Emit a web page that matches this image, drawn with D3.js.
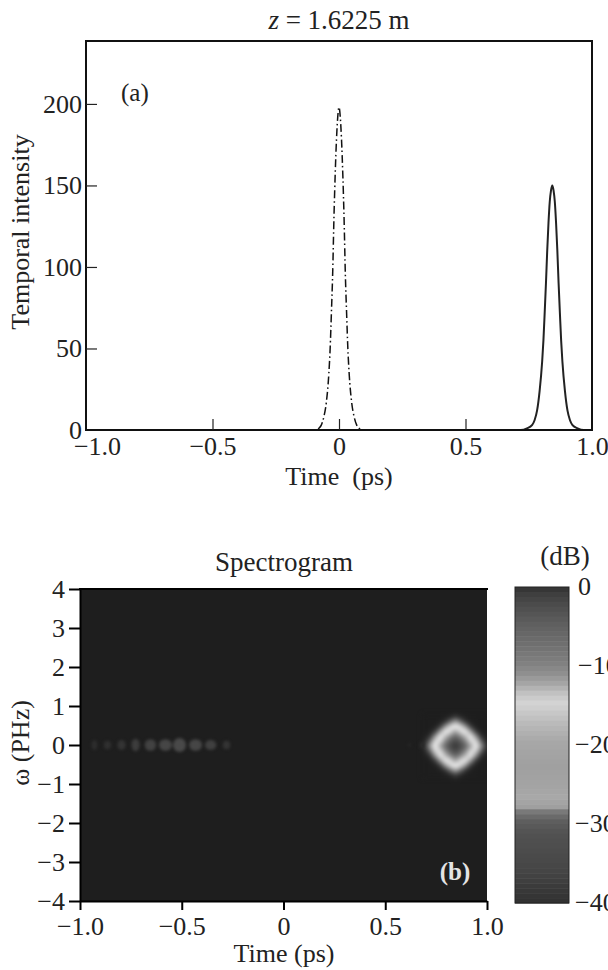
<!DOCTYPE html>
<html><head><meta charset="utf-8">
<script src="https://cdn.jsdelivr.net/npm/d3@7/dist/d3.min.js"></script>
<style>
html,body{margin:0;padding:0;background:#fff;overflow:hidden}
svg{display:block}
text{font-family:"Liberation Serif",serif;fill:#222}
</style></head><body><div id="c"></div>
<script>
// Panel (a): reference pulse (dash-dot) and shifted pulse (solid)
const refTime = [-1,-0.09,-0.08,-0.07,-0.06,-0.05,-0.04,-0.035,-0.03,-0.025,-0.02,-0.015,-0.01,-0.005,0,0.005,0.01,0.015,0.02,0.025,0.03,0.035,0.04,0.05,0.06,0.07,0.08,0.09,1];
const refIntensity = [0,0,1,3,8,17,35,50,72,96,130,157,178,192,198,192,178,157,130,96,72,50,35,17,8,3,1,0,0];
const pulseTime = [-1,0.718,0.743,0.763,0.773,0.783,0.793,0.803,0.808,0.813,0.818,0.823,0.828,0.833,0.838,0.843,0.848,0.853,0.858,0.863,0.868,0.873,0.878,0.883,0.893,0.903,0.913,0.923,0.943,0.968,1];
const pulseIntensity = [0,0,1,3,6,12,24,42,55,72,90,110,127,140,147,150,147,140,127,110,90,72,55,42,24,12,6,3,1,0,0];
const xTicksA = [-1,-0.5,0,0.5,1];
const yTicksA = [0,50,100,150,200];

// Panel (b): spectrogram, sampled level (0 = background, 100 = brightest)
const cellTimes = [0.695,0.72,0.745,0.77,0.795,0.82,0.845,0.87,0.895,0.92,0.945,0.97,0.995];
const cellFreqs = [0.725,0.6,0.475,0.35,0.225,0.1,-0.025,-0.15,-0.275,-0.4,-0.525,-0.65,-0.775];
const cellLevels = [
 [0,0,0,0,1,4,14,4,1,0,0,0,0],
 [0,0,0,1,10,42,74,42,10,1,0,0,0],
 [0,0,1,14,66,108,122,108,66,14,1,0,0],
 [0,1,14,70,120,108,72,108,120,70,14,1,0],
 [1,10,66,120,92,58,40,58,92,120,66,10,1],
 [4,42,108,108,58,34,24,34,58,108,108,42,4],
 [14,74,122,72,40,24,12,24,40,72,122,74,14],
 [4,42,108,108,58,34,24,34,58,108,108,42,4],
 [1,10,66,120,92,58,40,58,92,120,66,10,1],
 [0,1,14,70,120,108,72,108,120,70,14,1,0],
 [0,0,1,14,66,108,122,108,66,14,1,0,0],
 [0,0,0,1,10,42,74,42,10,1,0,0,0],
 [0,0,0,0,1,4,14,4,1,0,0,0,0]];
const spotTimes = [-0.929,-0.865,-0.796,-0.727,-0.654,-0.58,-0.511,-0.432,-0.358,-0.28,0.62,0.68];
const spotHalfT = [0.014,0.018,0.02,0.02,0.028,0.032,0.032,0.032,0.028,0.018,0.008,0.012];
const spotHalfF = [0.12,0.11,0.13,0.16,0.15,0.15,0.18,0.15,0.13,0.11,0.06,0.08];
const spotLevels = [9,10,12,17,20,22,24,22,19,12,4,6];
const xTicksB = [-1,-0.5,0,0.5,1];
const yTicksB = [-4,-3,-2,-1,0,1,2,3,4];

// Colour bar: dB stops and grey
const barDb = [0,-1,-2.5,-4,-5.8,-7.9,-9.6,-10.9,-12.2,-13.4,-14.6,-15.5,-17.1,-19.4,-22.7,-25.3,-26.5,-27.8,-28.4,-29.5,-31.2,-34.2,-36.3,-38,-40];
const barGrey = [50,64,78,90,102,116,128,142,165,192,212,204,187,168,160,164,168,160,122,96,82,74,68,58,48];
const barTicks = [0,-10,-20,-30,-40];

const fmt = v => { const s = v === 0 ? "0" : Math.abs(v).toFixed(1); return (v < 0 ? "\u2212" : "") + s; };
const W = 608, H = 970;
const FS = "26px";
const svg = d3.select("#c").append("svg").attr("width", W).attr("height", H);

/* ---------- panel (a) ---------- */
const xA = d3.scaleLinear().domain([-1,1]).range([86,592]);
const yA = d3.scaleLinear().domain([0,238.6]).range([430,41]);
const line = d3.line().x(d => xA(d[0])).y(d => yA(d[1])).curve(d3.curveMonotoneX);
const gA = svg.append("g");
gA.append("path").datum(d3.zip(refTime, refIntensity)).attr("d", line)
  .attr("fill","none").attr("stroke","#111").attr("stroke-width",1.5).attr("stroke-dasharray","8,3,1.5,3");
gA.append("path").datum(d3.zip(pulseTime, pulseIntensity)).attr("d", line)
  .attr("fill","none").attr("stroke","#222").attr("stroke-width",2);
gA.append("rect").attr("x",86).attr("y",41).attr("width",506).attr("height",389)
  .attr("fill","none").attr("stroke","#111").attr("stroke-width",2);

const axA = gA.append("g").attr("transform","translate(86,0)")
  .call(d3.axisLeft(yA).tickValues(yTicksA).tickFormat(d3.format("d")).tickSizeInner(-11).tickSizeOuter(0).tickPadding(4));
const axB = gA.append("g").attr("transform","translate(0,430)")
  .call(d3.axisBottom(xA).tickValues(xTicksA).tickFormat(fmt).tickSizeInner(-11).tickSizeOuter(0).tickPadding(6.5));
[axA,axB].forEach(a => {
  a.select(".domain").remove();
  a.selectAll("text").style("font-size",FS);
  a.selectAll("line").attr("stroke","#222").attr("stroke-width",1.2);
  a.attr("font-family",null).attr("font-size",null);
});
axA.selectAll(".tick").filter(d => d === 0).select("line").remove();
axB.selectAll(".tick").filter(d => d === -1 || d === 1).select("line").remove();
axB.selectAll(".tick").filter(d => d === -1).select("text").attr("dx",11);

const title = gA.append("text").attr("x",339).attr("y",29).attr("text-anchor","middle").style("font-size","27px");
title.append("tspan").style("font-style","italic").text("z");
title.append("tspan").text(" = 1.6225 m");
gA.append("text").attr("x",121).attr("y",101).style("font-size","25px").text("(a)");
gA.append("text").attr("transform","translate(29,232) rotate(-90)").attr("text-anchor","middle").style("font-size",FS).text("Temporal intensity");
gA.append("text").attr("x",339).attr("y",485).attr("text-anchor","middle").attr("xml:space","preserve").style("white-space","pre").style("font-size",FS).text("Time  (ps)");

/* ---------- panel (b) ---------- */
const xB = d3.scaleLinear().domain([-1,1]).range([80,487]);
const yB = d3.scaleLinear().domain([-4,4]).range([901,589]);
const grey = d3.scaleLinear().domain([0,100]).range(["#1e1e1e","#d2d2d2"]);
const defs = svg.append("defs");
defs.append("clipPath").attr("id","plotClip").append("rect")
  .attr("x",80).attr("y",589).attr("width",407).attr("height",312);
const mk = (id,s) => defs.append("filter").attr("id",id).attr("filterUnits","userSpaceOnUse")
  .attr("x",0).attr("y",500).attr("width",608).attr("height",470)
  .attr("color-interpolation-filters","sRGB")
  .append("feGaussianBlur").attr("stdDeviation",s);
mk("cellBlur",2.4); mk("spotBlur",1.8);

const gB = svg.append("g");
gB.append("rect").attr("x",80).attr("y",589).attr("width",407).attr("height",312).attr("fill","#1e1e1e");
const plot = gB.append("g").attr("clip-path","url(#plotClip)");
const dT = cellTimes[1]-cellTimes[0], dF = cellFreqs[0]-cellFreqs[1];
const cellData = cellLevels.flatMap((row,j) => row.map((v,i) => ({t:cellTimes[i], f:cellFreqs[j], v})));
plot.append("g").attr("filter","url(#cellBlur)").selectAll("rect").data(cellData).join("rect")
  .attr("x", d => xB(d.t - dT/2)).attr("y", d => yB(d.f + dF/2))
  .attr("width", xB(dT)-xB(0)+0.5).attr("height", yB(0)-yB(dF)+0.5)
  .attr("fill", d => grey(d.v));
plot.append("g").attr("filter","url(#spotBlur)").selectAll("ellipse")
  .data(d3.zip(spotTimes,spotHalfT,spotHalfF,spotLevels)).join("ellipse")
  .attr("cx", d => xB(d[0])).attr("cy", yB(0))
  .attr("rx", d => xB(d[1])-xB(0)).attr("ry", d => yB(0)-yB(d[2]))
  .attr("fill", d => grey(d[3]));
gB.append("text").attr("x",455).attr("y",880).attr("text-anchor","middle")
  .style("font-size","25px").style("font-weight","bold").style("fill","#e4e4e4").text("(b)");

const byA = gB.append("g").attr("transform","translate(80,0)")
  .call(d3.axisLeft(yB).tickValues(yTicksB).tickFormat(d3.format("d")).tickSizeInner(11).tickSizeOuter(0).tickPadding(4));
byA.selectAll("text").text(d => (d < 0 ? "\u2212" : "") + Math.abs(d));
const bxA = gB.append("g").attr("transform","translate(0,901)")
  .call(d3.axisBottom(xB).tickValues(xTicksB).tickFormat(fmt).tickSizeInner(9).tickSizeOuter(0).tickPadding(6.5));
[byA,bxA].forEach(a => {
  a.attr("font-family",null).attr("font-size",null);
  a.selectAll("text").style("font-size",FS);
  a.selectAll("line").attr("stroke","#000").attr("stroke-width",2);
});
byA.select(".domain").attr("stroke","#000").attr("stroke-width",2);
bxA.select(".domain").attr("stroke","#000").attr("stroke-width",2);
gB.append("line").attr("x1",79).attr("x2",488).attr("y1",589).attr("y2",589).attr("stroke","#000").attr("stroke-width",2);

gB.append("text").attr("x",284).attr("y",571).attr("text-anchor","middle").style("font-size","27px").text("Spectrogram");
gB.append("text").attr("x",284).attr("y",962).attr("text-anchor","middle").style("font-size",FS).text("Time (ps)");
gB.append("text").attr("transform","translate(29,743) rotate(-90)").attr("text-anchor","middle").style("font-size",FS).text("\u03c9 (PHz)");

/* ---------- colour bar ---------- */
const yBar = d3.scaleLinear().domain([-40,0]).range([903,587]);
const barColor = d3.scaleLinear().domain(barDb).range(barGrey.map(g => d3.rgb(g,g,g)));
const edges = d3.range(0,-40,-0.625);
const gC = svg.append("g");
gC.selectAll("rect").data(edges).join("rect")
  .attr("x",515).attr("width",54)
  .attr("y", d => yBar(d)).attr("height", d => yBar(d-0.625)-yBar(d)+0.5)
  .attr("fill", d => barColor(d-0.31));
gC.append("rect").attr("x",515).attr("y",587).attr("width",54).attr("height",316)
  .attr("fill","none").attr("stroke","#222").attr("stroke-width",1);
gC.selectAll("text.tick").data(barTicks).join("text").attr("class","tick")
  .attr("x", d => d === 0 || d === -10 ? 578 : 575).attr("y", d => yBar(d))
  .attr("dy","0.32em").style("font-size",FS)
  .text(d => (d < 0 ? "\u2212" : "") + Math.abs(d));
gC.append("text").attr("x",565).attr("y",565).attr("text-anchor","middle").style("font-size","27px").text("(dB)");
</script></body></html>
